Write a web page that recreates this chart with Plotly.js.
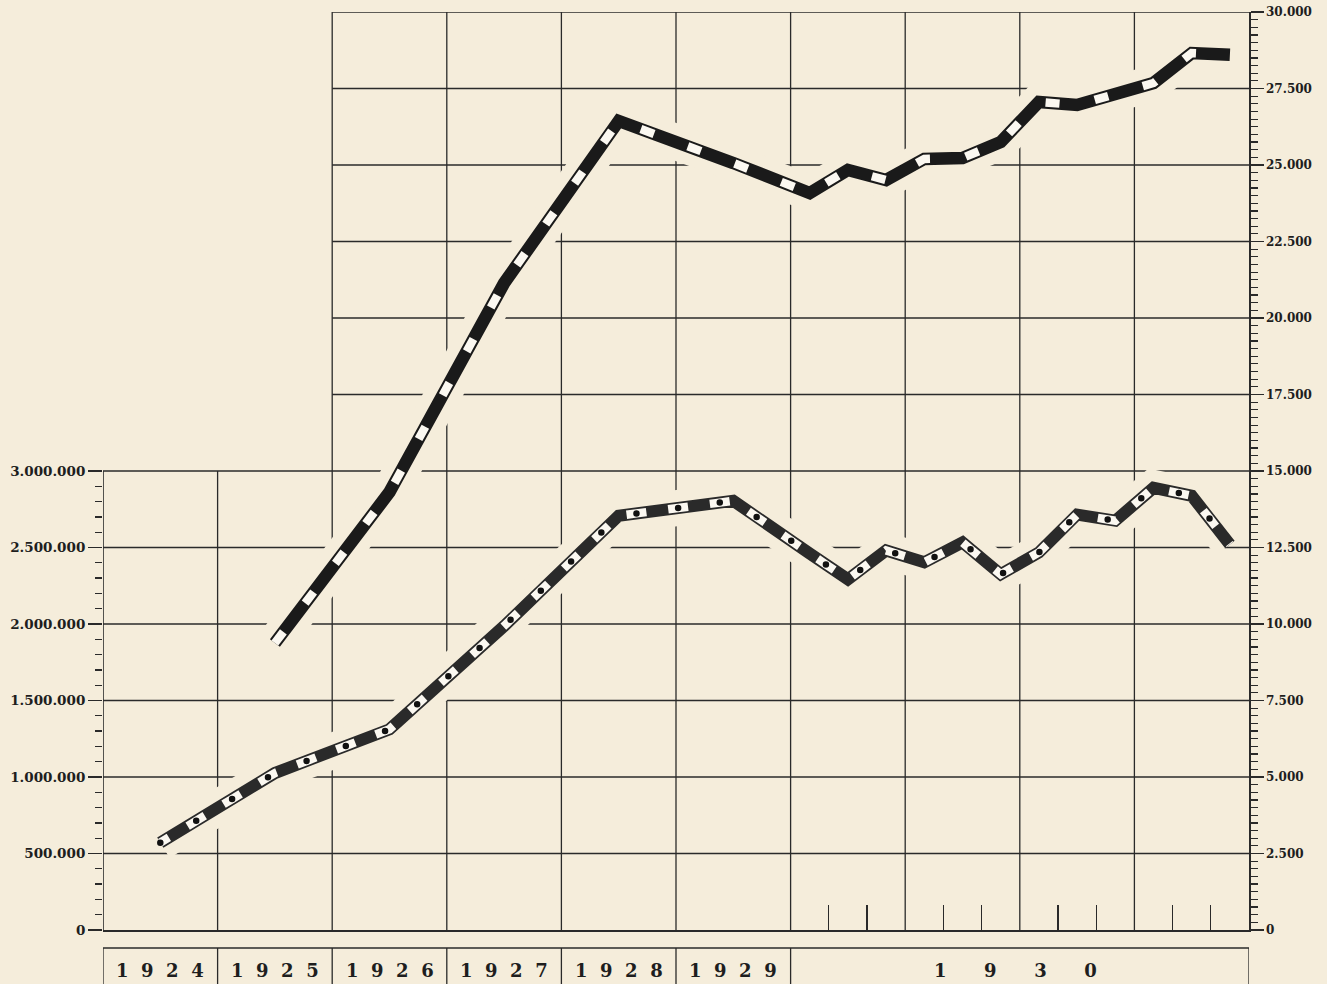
<!DOCTYPE html>
<html>
<head>
<meta charset="utf-8">
<script src="https://cdn.plot.ly/plotly-3.0.1.min.js"></script>
<style>
  html, body { margin: 0; padding: 0; background: #f5eddb; }
  #chart { width: 1327px; height: 984px; }
</style>
</head>
<body>
<div id="chart"></div>
<script>
// ---------------- DATA ----------------
// Periods: yearly 1924-1929, then monthly for 1930
const periodYear  = [1924, 1925, 1926, 1927, 1928, 1929,
                     1930, 1930, 1930, 1930, 1930, 1930, 1930, 1930, 1930, 1930, 1930, 1930];
const periodMonth = [0, 0, 0, 0, 0, 0,
                     1, 2, 3, 4, 5, 6, 7, 8, 9, 10, 11, 12];

// Lower series (left scale)
const seriesLeft = [571000, 1026000, 1312000, 1987000, 2708000, 2805000,
                    2461000, 2292000, 2481000, 2403000, 2533000, 2325000,
                    2468000, 2715000, 2675000, 2890000, 2838000, 2520000];

// Upper series (right scale)
const seriesRight = [null, 9380, 14310, 21140, 26440, 25065,
                     24085, 24840, 24510, 25200, 25230, 25750,
                     27060, 26960, 27350, 27680, 28660, 28600];

const leftTickVals = [0, 500000, 1000000, 1500000, 2000000, 2500000, 3000000];
const leftTickText = ['0', '500.000', '1.000.000', '1.500.000', '2.000.000', '2.500.000', '3.000.000'];

const rightTickVals = [0, 2500, 5000, 7500, 10000, 12500, 15000, 17500, 20000, 22500, 25000, 27500, 30000];
const rightTickText = ['0', '2.500', '5.000', '7.500', '10.000', '12.500', '15.000',
                       '17.500', '20.000', '22.500', '25.000', '27.500', '30.000'];

const yearLabels = ['1924', '1925', '1926', '1927', '1928', '1929', '1930'];

// ---------------- SCALE HELPERS ----------------
// x axis unit = one column; 1924..1929 one column per year, 1930 four columns (quarters)
function colPos(year, month) {
  return month ? 6 + (month - 0.5) / 3 : (year - 1924) + 0.5;
}
const xs = periodYear.map((y, i) => colPos(y, periodMonth[i]));

const BG = '#f5eddb';
const INK = '#1e1e1e';
const GRID = '#2a2a2a';
const FONT = 'DejaVu Serif';

// ---------------- TRACES ----------------
function tr(y, axis, color, width, dash) {
  return {
    x: xs, y: y, yaxis: axis, type: 'scatter', mode: 'lines',
    line: { color: color, width: width, dash: dash || 'solid' },
    hoverinfo: 'skip', showlegend: false, connectgaps: false
  };
}
const traces = [
  tr(seriesLeft, 'y', BG, 36),
  tr(seriesLeft, 'y', '#2a2a2a', 12),
  tr(seriesLeft, 'y', '#fbf8f1', 8.5, '10px,22px,10px,0px'),
  tr(seriesLeft, 'y', '#111111', 6.5, '0px,42px'),
  tr(seriesRight, 'y2', BG, 36),
  tr(seriesRight, 'y2', '#1a1a1a', 12.5),
  tr(seriesRight, 'y2', '#fbf8f1', 8.5, '14px,36px')
];

// ---------------- GRID / FRAME SHAPES ----------------
const shapes = [];
function seg(x0, y0, x1, y1, yref, w) {
  shapes.push({ type: 'line', xref: 'x', yref: yref, x0: x0, y0: y0, x1: x1, y1: y1,
                layer: 'below', line: { color: GRID, width: w || 1.3 } });
}
// horizontal grid lines (right-scale units)
rightTickVals.forEach(v => {
  if (v === 0) return;
  seg(v <= 15000 ? 0 : 2, v, 10, v, 'y2', 1.3);
});
// vertical grid lines
for (let c = 1; c <= 9; c++) seg(c, 0, c, c >= 2 ? 30000 : 15000, 'y2', 1.3);
// left axis line (only up to the left scale top)
seg(0, 0, 0, 15000, 'y2', 1.6);

// label boxes below the chart
const boxTop = -0.0196, boxBottom = -0.12;
shapes.push({ type: 'line', xref: 'x', yref: 'paper', x0: 0, x1: 10, y0: boxTop, y1: boxTop,
              line: { color: GRID, width: 1.3 } });
[0, 1, 2, 3, 4, 5, 6, 10].forEach(c => {
  shapes.push({ type: 'line', xref: 'x', yref: 'paper', x0: c, x1: c, y0: boxTop, y1: boxBottom,
                line: { color: GRID, width: 1.3 } });
});

// year annotations
function spaced(s, n) { return s.split('').join('\u00a0'.repeat(n)); }
const annotations = yearLabels.map(lbl => {
  const yr = +lbl;
  const isLast = yr === 1930;
  return {
    xref: 'x', yref: 'paper', x: isLast ? 7.96 : (yr - 1924) + 0.5, y: -0.0436,
    xanchor: 'center', yanchor: 'middle', showarrow: false,
    text: spaced(lbl, isLast ? 6 : 2),
    font: { family: FONT, size: 18, color: INK, weight: 'bold' }
  };
});

// minor tick values
const leftMinor = [];
for (let v = 100000; v < 3000000; v += 100000) if (v % 500000) leftMinor.push(v);
const rightMinor = [];
for (let v = 250; v < 30000; v += 250) if (v % 2500) rightMinor.push(v);
const monthTicks = [];
for (let k = 1; k < 12; k++) if (k % 3) monthTicks.push(6 + k / 3);

const layout = {
  width: 1327, height: 984,
  margin: { l: 103, r: 78, t: 12, b: 54 },
  paper_bgcolor: BG, plot_bgcolor: BG,
  showlegend: false,
  xaxis: {
    range: [0, 10], showgrid: false, zeroline: false, showticklabels: false,
    showline: true, linecolor: GRID, linewidth: 1.6,
    ticks: '', fixedrange: true,
    minor: { tickmode: 'array', tickvals: monthTicks, ticks: 'inside', ticklen: 25,
             tickwidth: 1.3, tickcolor: GRID, showgrid: false }
  },
  yaxis: {
    range: [0, 6000000], showgrid: false, zeroline: false, showline: false,
    tickmode: 'array', tickvals: leftTickVals, ticktext: leftTickText,
    ticks: 'outside', ticklen: 14, tickwidth: 1.4, tickcolor: GRID,
    tickfont: { family: FONT, size: 13.5, color: INK, weight: 'bold' },
    minor: { tickmode: 'array', tickvals: leftMinor, ticks: 'outside', ticklen: 7,
             tickwidth: 1.3, tickcolor: GRID, showgrid: false },
    fixedrange: true
  },
  yaxis2: {
    range: [0, 30000], overlaying: 'y', side: 'right',
    showgrid: false, zeroline: false, showline: true, linecolor: GRID, linewidth: 1.6,
    tickmode: 'array', tickvals: rightTickVals, ticktext: rightTickText,
    ticks: 'outside', ticklen: 13, tickwidth: 1.4, tickcolor: GRID,
    tickfont: { family: FONT, size: 12, color: INK, weight: 'bold' },
    minor: { tickmode: 'array', tickvals: rightMinor, ticks: 'outside', ticklen: 7,
             tickwidth: 1.2, tickcolor: GRID, showgrid: false },
    fixedrange: true
  },
  shapes: shapes,
  annotations: annotations
};

Plotly.newPlot('chart', traces, layout, { displayModeBar: false, staticPlot: true }).then(gd => {
  gd.querySelectorAll('.js-line').forEach(p => {
    const d = (p.style.strokeDasharray || '').trim();
    if (d.startsWith('0')) p.style.strokeLinecap = 'round';
  });
});
</script>
</body>
</html>
